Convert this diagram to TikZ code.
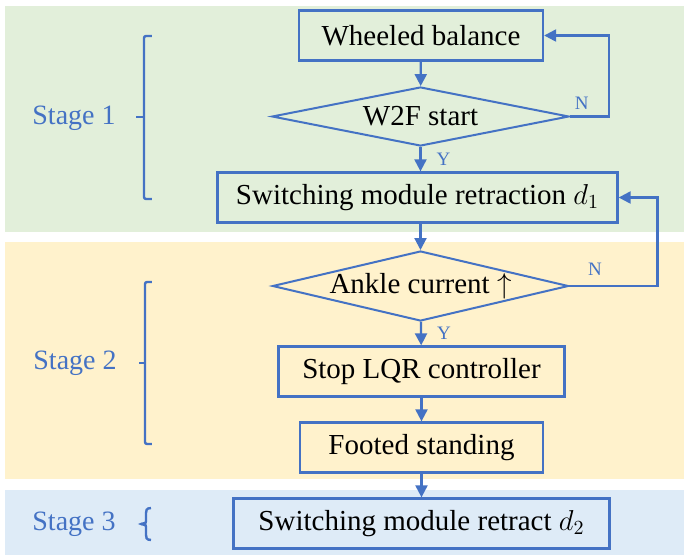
\documentclass[tikz,border=0pt]{standalone}
\usepackage{fontspec}
\setmainfont{Liberation Serif}
\usetikzlibrary{shapes.geometric, arrows.meta}

\definecolor{flowblue}{HTML}{4472C4}
\definecolor{stagegreen}{HTML}{E2EFDA}
\definecolor{stageorange}{HTML}{FFF2CC}
\definecolor{stageblue}{HTML}{DEEBF7}

\begin{document}
\begin{tikzpicture}[x=0.5pt, y=-0.5pt,
	box/.style={rectangle, draw=flowblue, line width=1.15pt, minimum height=25pt, inner sep=0pt, font=\fontsize{14.5}{17}\selectfont},
	decision/.style={diamond, draw=flowblue, line width=1pt, aspect=4.3, inner sep=0pt, font=\fontsize{14.5}{17}\selectfont},
	flow/.style={draw=flowblue, line width=1.1pt, -{Triangle[length=6pt,width=6pt]}},
	yn/.style={text=flowblue, inner sep=1pt, font=\fontsize{9.5}{11}\selectfont},
	stage/.style={text=flowblue, anchor=base west, inner sep=0pt, font=\fontsize{14}{16}\selectfont},
	bracket/.style={draw=flowblue, line width=1.2pt, rounded corners=1pt}]
	\useasboundingbox (0,0) rectangle (693,559);

	% stage bands
	\fill[stagegreen] (5,6) rectangle (684,232);
	\fill[stageorange] (5,242) rectangle (684,479);
	\fill[stageblue] (5,490) rectangle (684,555);

	\node (wheel) [box, minimum width=122pt] at (421,35.5) {Wheeled balance};
	\node (w2f) [decision, minimum width=148.5pt, minimum height=29.5pt] at (420.5,116.5) {W2F start};
	\node (retract1) [box, minimum width=200pt] at (417.5,197.5) {Switching module retraction $d_1$};
	\node (ankle) [decision, minimum width=148pt, minimum height=35pt] at (420.5,286) {Ankle current $\uparrow$};
	\node (stoplqr) [box, minimum width=143pt] at (421.5,371.5) {Stop LQR controller};
	\node (footed) [box, minimum width=121.5pt] at (421.5,447.5) {Footed standing};
	\node (retract2) [box, minimum width=188pt] at (421.5,523.5) {Switching module retract $d_2$};

	\node (stage1) [stage] at (32,124) {Stage 1};
	\node (stage2) [stage] at (33,369) {Stage 2};
	\node (stage3) [stage] at (32,530) {Stage 3};

	\draw [flow] (wheel) -- (w2f);
	\draw [flow] (w2f) -- node[yn, right=6.5pt] {Y} (w2f.south |- retract1.north);
	\draw [flow] (w2f.east) -- node[yn, above=2pt, pos=0.3] {N} ++(39,0) |- (wheel.east);
	\draw [flow] (retract1.south -| ankle.north) -- (ankle.north);
	\draw [flow] (ankle) -- node[yn, right=6.5pt] {Y} (stoplqr);
	\draw [flow] (ankle.east) -- node[yn, above=3.5pt, pos=0.29] {N} ++(88,0) |- (retract1.east);
	\draw [flow] (stoplqr) -- (footed);
	\draw [flow] (footed) -- (retract2);

	% brackets
	\draw [bracket] (152,36) -- (144,36) -- (144,199) -- (152,199);
	\draw [bracket] (144,117) -- (136,117);
	\draw [bracket] (152,282) -- (145,282) -- (145,444) -- (152,444);
	\draw [bracket] (145,363) -- (139,363);
	\draw [bracket] (151,508) .. controls (146,508) and (146,511) .. (146,515) -- (146,519)
		.. controls (146,523) .. (140,524) .. controls (146,525) .. (146,529) -- (146,533)
		.. controls (146,537) and (146,540) .. (151,540);
\end{tikzpicture}
\end{document}
